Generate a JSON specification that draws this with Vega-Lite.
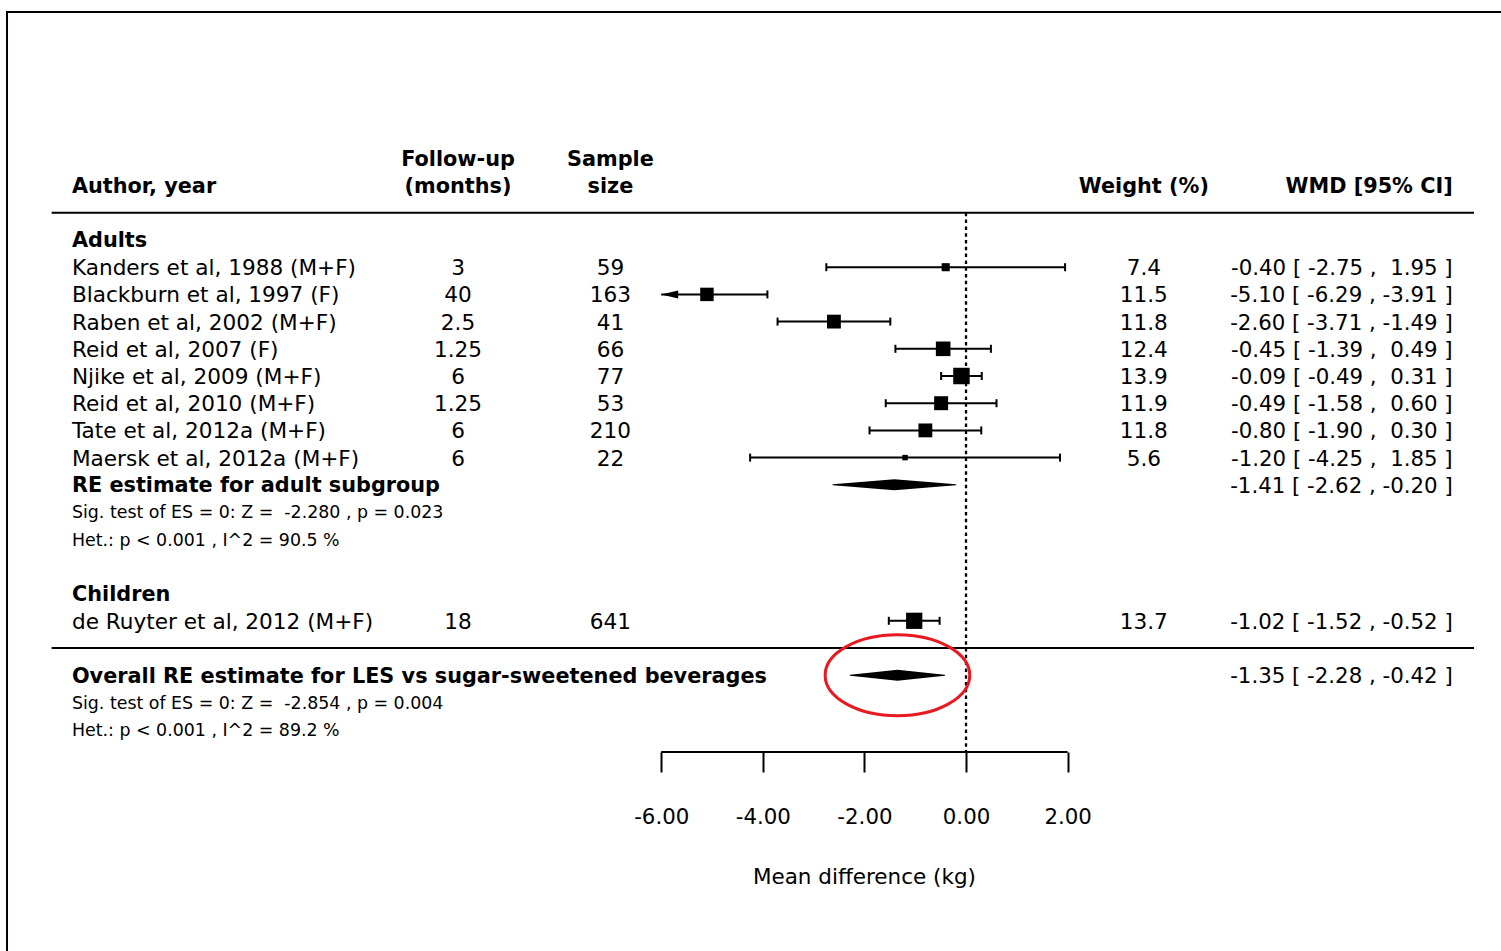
{
  "$schema": "https://vega.github.io/schema/vega-lite/v6.json",
  "width": 1501,
  "height": 752,
  "autosize": {"type": "none"},
  "padding": {"left": 0, "top": 0, "right": 0, "bottom": 199},
  "background": "white",
  "config": {"view": {"stroke": null}, "font": "DejaVu Sans"},
  "resolve": {"axis": {"x": "independent", "y": "independent"}},
  "datasets": {
    "table": [
      {"row": 0, "label": "Adults", "kind": "group"},
      {"row": 1, "label": "Kanders et al, 1988 (M+F)", "kind": "study", "followup": 3, "n": 59, "weight": 7.4, "est": -0.40, "lb": -2.75, "ub": 1.95},
      {"row": 2, "label": "Blackburn et al, 1997 (F)", "kind": "study", "followup": 40, "n": 163, "weight": 11.5, "est": -5.10, "lb": -6.29, "ub": -3.91},
      {"row": 3, "label": "Raben et al, 2002 (M+F)", "kind": "study", "followup": 2.5, "n": 41, "weight": 11.8, "est": -2.60, "lb": -3.71, "ub": -1.49},
      {"row": 4, "label": "Reid et al, 2007 (F)", "kind": "study", "followup": 1.25, "n": 66, "weight": 12.4, "est": -0.45, "lb": -1.39, "ub": 0.49},
      {"row": 5, "label": "Njike et al, 2009 (M+F)", "kind": "study", "followup": 6, "n": 77, "weight": 13.9, "est": -0.09, "lb": -0.49, "ub": 0.31},
      {"row": 6, "label": "Reid et al, 2010 (M+F)", "kind": "study", "followup": 1.25, "n": 53, "weight": 11.9, "est": -0.49, "lb": -1.58, "ub": 0.60},
      {"row": 7, "label": "Tate et al, 2012a (M+F)", "kind": "study", "followup": 6, "n": 210, "weight": 11.8, "est": -0.80, "lb": -1.90, "ub": 0.30},
      {"row": 8, "label": "Maersk et al, 2012a (M+F)", "kind": "study", "followup": 6, "n": 22, "weight": 5.6, "est": -1.20, "lb": -4.25, "ub": 1.85},
      {"row": 9, "label": "RE estimate for adult subgroup", "kind": "summary", "est": -1.41, "lb": -2.62, "ub": -0.20},
      {"row": 10, "label": "Sig. test of ES = 0: Z = \u00a0-2.280 , p = 0.023", "kind": "note"},
      {"row": 11, "label": "Het.: p < 0.001 , I^2 = 90.5 %", "kind": "note"},
      {"row": 13, "label": "Children", "kind": "group"},
      {"row": 14, "label": "de Ruyter et al, 2012 (M+F)", "kind": "study", "followup": 18, "n": 641, "weight": 13.7, "est": -1.02, "lb": -1.52, "ub": -0.52},
      {"row": 16, "label": "Overall RE estimate for LES vs sugar-sweetened beverages", "kind": "overall", "est": -1.35, "lb": -2.28, "ub": -0.42},
      {"row": 17, "label": "Sig. test of ES = 0: Z = \u00a0-2.854 , p = 0.004", "kind": "note"},
      {"row": 18, "label": "Het.: p < 0.001 , I^2 = 89.2 %", "kind": "note"}
    ],
    "header": [
      {"row": -2, "text": "Author, year", "col": "author"},
      {"row": -3, "text": "Follow-up", "col": "followup"},
      {"row": -2, "text": "(months)", "col": "followup"},
      {"row": -3, "text": "Sample", "col": "n"},
      {"row": -2, "text": "size", "col": "n"},
      {"row": -2, "text": "Weight (%)", "col": "weight"},
      {"row": -2, "text": "WMD [95% CI]", "col": "wmd"}
    ]
  },
  "data": {"name": "table"},
  "layer": [
    {
      "transform": [
        {"filter": "datum.kind === 'study'"},
        {"calculate": "max(datum.lb, -6)", "as": "lb_shown"}
      ],
      "mark": {"type": "rule", "color": "black", "strokeWidth": 2},
      "encoding": {
        "x": {
          "field": "lb_shown", "type": "quantitative",
          "scale": {"domain": [-19.016, 10.531], "nice": false, "zero": false},
          "axis": {
            "orient": "bottom", "values": [-6, -4, -2, 0, 2], "domain": false, "grid": false,
            "ticks": true, "tickSize": 20, "tickWidth": 2, "tickColor": "black",
            "labelFont": "DejaVu Sans", "labelFontSize": 21.3, "labelColor": "black", "labelPadding": 34,
            "labelFlush": false, "labelOverlap": false,
            "labelExpr": "replace(format(datum.value, '.2f'), '\u2212', '-')",
            "title": null
          }
        },
        "x2": {"field": "ub"},
        "y": {"field": "row", "type": "quantitative", "scale": {"domain": [-8.8235, 18.8235], "reverse": true, "nice": false, "zero": false}, "axis": null}
      }
    },
    {
      "data": {"values": [{}]},
      "mark": {"type": "rect", "filled": false, "stroke": "black", "strokeWidth": 2},
      "encoding": {
        "x": {"datum": -18.878, "axis": null},
        "x2": {"datum": 11},
        "y": {"datum": -8.382, "axis": null},
        "y2": {"datum": 27}
      }
    },
    {
      "data": {"values": [{}]},
      "mark": {"type": "rule", "color": "black", "strokeWidth": 2},
      "encoding": {
        "x": {"datum": -18, "axis": null},
        "x2": {"datum": 10},
        "y": {"datum": -1, "axis": null}
      }
    },
    {
      "data": {"values": [{}]},
      "mark": {"type": "rule", "color": "black", "strokeWidth": 2},
      "encoding": {
        "x": {"datum": -18, "axis": null},
        "x2": {"datum": 10},
        "y": {"datum": 15, "axis": null}
      }
    },
    {
      "data": {"values": [{}]},
      "mark": {"type": "rule", "color": "black", "strokeWidth": 2.3, "strokeDash": [3.5, 3.3]},
      "encoding": {
        "x": {"datum": 0, "axis": null},
        "y": {"datum": -1, "axis": null},
        "y2": {"datum": 18.8235}
      }
    },
    {
      "data": {"values": [{}]},
      "mark": {"type": "rule", "color": "black", "strokeWidth": 2},
      "encoding": {
        "x": {"datum": -6, "axis": null},
        "x2": {"datum": 2},
        "y": {"datum": 18.8235, "axis": null}
      }
    },
    {
      "transform": [{"filter": "datum.kind === 'study' && datum.lb >= -6"}],
      "mark": {"type": "tick", "orient": "vertical", "size": 8, "thickness": 2, "color": "black", "opacity": 1},
      "encoding": {
        "x": {"field": "lb", "type": "quantitative", "axis": null},
        "y": {"field": "row", "type": "quantitative", "axis": null}
      }
    },
    {
      "transform": [{"filter": "datum.kind === 'study'"}],
      "mark": {"type": "tick", "orient": "vertical", "size": 8, "thickness": 2, "color": "black", "opacity": 1},
      "encoding": {
        "x": {"field": "ub", "type": "quantitative", "axis": null},
        "y": {"field": "row", "type": "quantitative", "axis": null}
      }
    },
    {
      "transform": [{"filter": "datum.kind === 'study'"}],
      "mark": {"type": "point", "shape": "square", "filled": true, "color": "black", "opacity": 1},
      "encoding": {
        "x": {"field": "est", "type": "quantitative", "axis": null},
        "y": {"field": "row", "type": "quantitative", "axis": null},
        "size": {"field": "weight", "type": "quantitative", "scale": {"type": "pow", "exponent": 2, "domain": [5.6, 13.9], "range": [30, 272], "zero": false}, "legend": null}
      }
    },
    {
      "transform": [{"filter": "datum.kind === 'study' && datum.lb < -6"}],
      "mark": {"type": "point", "shape": "M0,0L2,-0.47L2,0.47Z", "size": 289, "filled": true, "color": "black", "opacity": 1},
      "encoding": {
        "x": {"datum": -6, "axis": null},
        "y": {"field": "row", "type": "quantitative", "axis": null}
      }
    },
    {
      "transform": [
        {"filter": "datum.kind === 'summary' || datum.kind === 'overall'"},
        {"fold": ["lb", "est", "ub"], "as": ["part", "xval"]}
      ],
      "mark": {"type": "trail", "color": "black"},
      "encoding": {
        "x": {"field": "xval", "type": "quantitative", "axis": null},
        "y": {"field": "row", "type": "quantitative", "axis": null},
        "detail": {"field": "label", "type": "nominal"},
        "order": {"field": "xval", "type": "quantitative"},
        "size": {"condition": {"test": "datum.part === 'est'", "value": 11}, "value": 0}
      }
    },
    {
      "transform": [{"filter": "datum.kind === 'overall'"}],
      "mark": {"type": "point", "shape": "M-1,0A1,0.56,0,1,1,1,0A1,0.56,0,1,1,-1,0Z", "size": 20909, "filled": false, "color": "#e8191f", "strokeWidth": 3, "opacity": 1},
      "encoding": {
        "x": {"field": "est", "type": "quantitative", "axis": null},
        "y": {"field": "row", "type": "quantitative", "axis": null}
      }
    },
    {
      "transform": [{"filter": "datum.kind === 'study'"}],
      "mark": {"type": "text", "align": "left", "baseline": "middle", "dy": 2, "fontSize": 21.6, "color": "black"},
      "encoding": {
        "x": {"datum": -17.6, "axis": null},
        "y": {"field": "row", "type": "quantitative", "axis": null},
        "text": {"field": "label", "type": "nominal"}
      }
    },
    {
      "transform": [{"filter": "datum.kind === 'group' || datum.kind === 'summary' || datum.kind === 'overall'"}],
      "mark": {"type": "text", "align": "left", "baseline": "middle", "dy": 1.5, "fontSize": 20.8, "fontWeight": "bold", "color": "black"},
      "encoding": {
        "x": {"datum": -17.6, "axis": null},
        "y": {"field": "row", "type": "quantitative", "axis": null},
        "text": {"field": "label", "type": "nominal"}
      }
    },
    {
      "transform": [{"filter": "datum.kind === 'note'"}],
      "mark": {"type": "text", "align": "left", "baseline": "middle", "dy": 1.3, "fontSize": 17.4, "color": "black"},
      "encoding": {
        "x": {"datum": -17.6, "axis": null},
        "y": {"field": "row", "type": "quantitative", "axis": null},
        "text": {"field": "label", "type": "nominal"}
      }
    },
    {
      "transform": [{"filter": "datum.kind === 'study'"}],
      "mark": {"type": "text", "align": "center", "baseline": "middle", "dy": 2, "fontSize": 21.6, "color": "black"},
      "encoding": {
        "x": {"datum": -10, "axis": null},
        "y": {"field": "row", "type": "quantitative", "axis": null},
        "text": {"field": "followup", "type": "nominal"}
      }
    },
    {
      "transform": [{"filter": "datum.kind === 'study'"}],
      "mark": {"type": "text", "align": "center", "baseline": "middle", "dy": 2, "fontSize": 21.6, "color": "black"},
      "encoding": {
        "x": {"datum": -7, "axis": null},
        "y": {"field": "row", "type": "quantitative", "axis": null},
        "text": {"field": "n", "type": "nominal"}
      }
    },
    {
      "transform": [{"filter": "datum.kind === 'study'"}],
      "mark": {"type": "text", "align": "center", "baseline": "middle", "dy": 2, "fontSize": 21.6, "color": "black"},
      "encoding": {
        "x": {"datum": 3.5, "axis": null},
        "y": {"field": "row", "type": "quantitative", "axis": null},
        "text": {"field": "weight", "type": "quantitative", "format": ".1f"}
      }
    },
    {
      "transform": [
        {"filter": "datum.kind === 'study' || datum.kind === 'summary' || datum.kind === 'overall'"},
        {"calculate": "replace(format(datum.est, '.2f'), '\u2212', '-') + ' [ ' + (datum.lb < 0 ? '' : '\u00a0') + replace(format(datum.lb, '.2f'), '\u2212', '-') + ' , ' + (datum.ub < 0 ? '' : '\u00a0') + replace(format(datum.ub, '.2f'), '\u2212', '-') + ' ]'", "as": "wmd"}
      ],
      "mark": {"type": "text", "align": "right", "baseline": "middle", "dy": 2, "fontSize": 21.3, "color": "black"},
      "encoding": {
        "x": {"datum": 9.58, "axis": null},
        "y": {"field": "row", "type": "quantitative", "axis": null},
        "text": {"field": "wmd", "type": "nominal"}
      }
    },
    {
      "data": {"name": "header"},
      "transform": [{"filter": "datum.col === 'author'"}],
      "mark": {"type": "text", "align": "left", "baseline": "middle", "dy": 1.5, "fontSize": 20.8, "fontWeight": "bold", "color": "black"},
      "encoding": {
        "x": {"datum": -17.6, "axis": null},
        "y": {"field": "row", "type": "quantitative", "axis": null},
        "text": {"field": "text", "type": "nominal"}
      }
    },
    {
      "data": {"name": "header"},
      "transform": [{"filter": "datum.col === 'followup'"}],
      "mark": {"type": "text", "align": "center", "baseline": "middle", "dy": 1.5, "fontSize": 20.8, "fontWeight": "bold", "color": "black"},
      "encoding": {
        "x": {"datum": -10, "axis": null},
        "y": {"field": "row", "type": "quantitative", "axis": null},
        "text": {"field": "text", "type": "nominal"}
      }
    },
    {
      "data": {"name": "header"},
      "transform": [{"filter": "datum.col === 'n'"}],
      "mark": {"type": "text", "align": "center", "baseline": "middle", "dy": 1.5, "fontSize": 20.8, "fontWeight": "bold", "color": "black"},
      "encoding": {
        "x": {"datum": -7, "axis": null},
        "y": {"field": "row", "type": "quantitative", "axis": null},
        "text": {"field": "text", "type": "nominal"}
      }
    },
    {
      "data": {"name": "header"},
      "transform": [{"filter": "datum.col === 'weight'"}],
      "mark": {"type": "text", "align": "center", "baseline": "middle", "dy": 1.5, "fontSize": 20.8, "fontWeight": "bold", "color": "black"},
      "encoding": {
        "x": {"datum": 3.5, "axis": null},
        "y": {"field": "row", "type": "quantitative", "axis": null},
        "text": {"field": "text", "type": "nominal"}
      }
    },
    {
      "data": {"name": "header"},
      "transform": [{"filter": "datum.col === 'wmd'"}],
      "mark": {"type": "text", "align": "right", "baseline": "middle", "dy": 1.5, "fontSize": 20.8, "fontWeight": "bold", "color": "black"},
      "encoding": {
        "x": {"datum": 9.58, "axis": null},
        "y": {"field": "row", "type": "quantitative", "axis": null},
        "text": {"field": "text", "type": "nominal"}
      }
    },
    {
      "data": {"values": [{"title": "Mean difference (kg)"}]},
      "mark": {"type": "text", "align": "center", "baseline": "middle", "fontSize": 21.5, "color": "black"},
      "encoding": {
        "x": {"datum": -2, "axis": null},
        "y": {"datum": 23.45, "axis": null},
        "text": {"field": "title", "type": "nominal"}
      }
    }
  ]
}
